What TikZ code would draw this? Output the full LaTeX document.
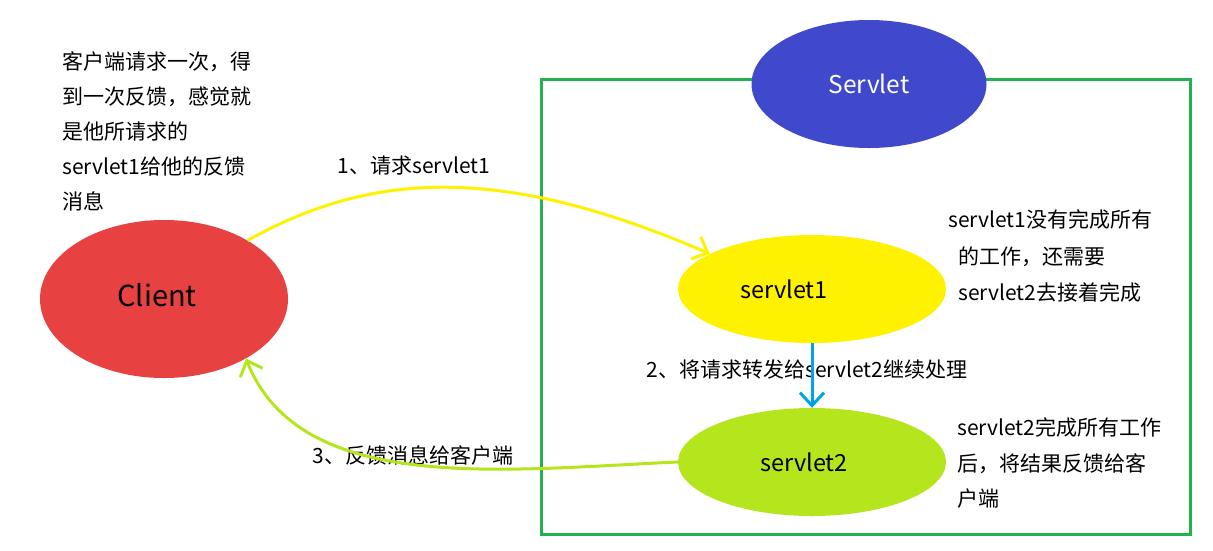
\documentclass[tikz,border=0pt]{standalone}
\usepackage{fontspec}
\setmainfont{Noto Sans CJK SC}
\definecolor{ClientRed}{RGB}{232, 65, 65}
\definecolor{ServletBlue}{RGB}{64, 73, 204}
\definecolor{OneYellow}{RGB}{255, 242, 0}
\definecolor{TwoGreen}{RGB}{181, 230, 29}
\definecolor{BoxGreen}{RGB}{34, 177, 76}
\definecolor{ForwardBlue}{RGB}{0, 162, 232}
\usetikzlibrary{arrows.meta, positioning, shapes.geometric}

\begin{document}
\begin{tikzpicture}[
            x=1pt, y=-1pt,
            oval/.style={ellipse, inner sep=0pt, minimum width=268pt, minimum height=108pt},
            ovaltext/.style={inner sep=0pt, font=\fontsize{23.5}{23.5}\selectfont},
            container/.style={rectangle, draw=BoxGreen, line width=3pt,
                        minimum width=649pt, minimum height=455pt},
            note/.style={align=left, anchor=west, inner sep=0pt, font=\fontsize{21}{35}\selectfont},
            steptext/.style={inner sep=0pt, font=\fontsize{21}{21}\selectfont},
            arrow/.style={-{Straight Barb[length=13pt, width=24pt]}, line width=3pt}
        ]
            \useasboundingbox (0,0) rectangle (1213,550);

            % Server side
            \node[container] (srvbox) at (865.5,306.5) {};
            \node[oval, fill=ServletBlue, minimum width=235pt, minimum height=128pt,
                  text=white, font=\fontsize{24.5}{24.5}\selectfont] (servlet) at (869,84) {Servlet};
            \node[oval, fill=OneYellow, label={[ovaltext, xshift=-28pt]center:servlet1}] (s1) at (812,289) {};
            \node[oval, fill=TwoGreen, label={[ovaltext, xshift=-8pt]center:servlet2}] (s2) at (812,462) {};

            % Client
            \node[oval, fill=ClientRed, minimum width=248pt, minimum height=158pt,
                  label={[ovaltext, font=\fontsize{29}{29}\selectfont, xshift=-7pt, yshift=4pt]center:Client}] (client) at (164,299) {};

            % Notes
            \node[note] (clientnote) at (62,131) {客户端请求一次，得\\到一次反馈，感觉就\\是他所请求的\\servlet1给他的反馈\\消息};
            \node[note, font=\fontsize{21}{36.5}\selectfont] (onenote) at (948,256) {servlet1没有完成所有\\\hspace*{10pt}的工作，还需要\\\hspace*{10pt}servlet2去接着完成};
            \node[note, font=\fontsize{21}{35.5}\selectfont] (twonote) at (957,463) {servlet2完成所有工作\\后，将结果反馈给客\\户端};

            % Step labels
            \node[steptext] (req) at (414,166) {1、请求servlet1};
            \node[steptext] (fwd) at (807,370) {2、将请求转发给servlet2继续处理};
            \node[steptext] (back) at (413,455) {3、反馈消息给客户端};

            % Arrows
            \draw[arrow, OneYellow] (client.35) .. controls (370,172) and (500,163) .. (s1.161);
            \draw[arrow, ForwardBlue] (s1.south) -- (s2.north);
            \draw[arrow, TwoGreen] (s2.west) .. controls (500,470) and (300,495) .. (client.-36);
        \end{tikzpicture}
\end{document}
